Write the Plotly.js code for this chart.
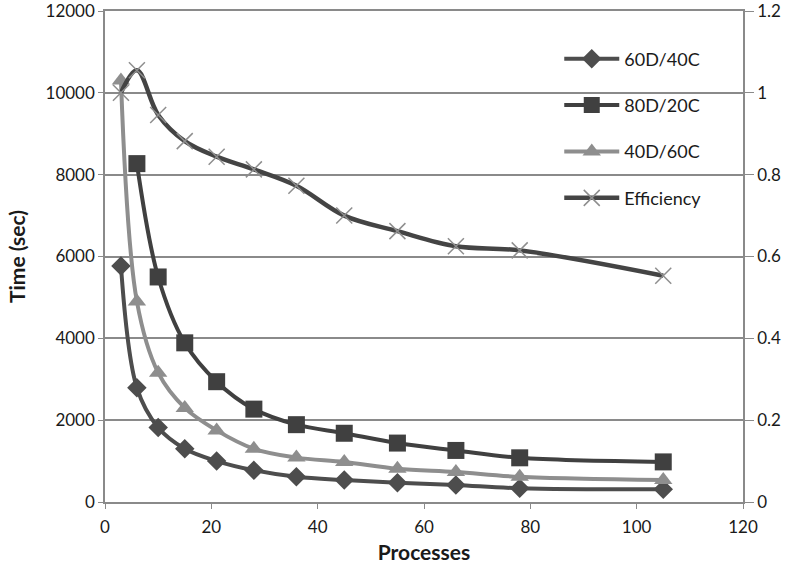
<!DOCTYPE html>
<html>
<head>
<meta charset="utf-8">
<script src="https://cdn.plot.ly/plotly-3.0.1.min.js"></script>
<style>html,body{margin:0;padding:0;background:#fff;}#chart{width:800px;height:565px;}</style>
</head>
<body>
<div id="chart"></div>
<script>
var processes = [3, 6, 10, 15, 21, 28, 36, 45, 55, 66, 78, 105];
var processes80 = [6, 10, 15, 21, 28, 36, 45, 55, 66, 78, 105];
var time60D40C = [5770, 2790, 1820, 1300, 1000, 775, 615, 535, 470, 415, 335, 310];
var time80D20C = [8270, 5500, 3890, 2940, 2270, 1890, 1680, 1440, 1260, 1080, 980];
var time40D60C = [10300, 4900, 3160, 2300, 1750, 1300, 1085, 980, 815, 735, 615, 535];
var efficiency = [1.0, 1.055, 0.946, 0.882, 0.844, 0.813, 0.773, 0.700, 0.662, 0.625, 0.615, 0.553];
var seriesNames = ["60D/40C", "80D/20C", "40D/60C", "Efficiency"];

var light = "#8e8e8e";
var font = "Lato, 'Open Sans', sans-serif";

var traces = [
  {x: processes, y: time60D40C, name: seriesNames[0], legendgroup: "a", type: "scatter", mode: "lines+markers",
   line: {color: "#4d4d4d", width: 4, shape: "spline", smoothing: 1},
   marker: {symbol: "diamond", size: 15, color: "#4d4d4d"}},
  {x: processes80, y: time80D20C, name: seriesNames[1], legendgroup: "b", type: "scatter", mode: "lines+markers",
   line: {color: "#404040", width: 4, shape: "spline", smoothing: 1},
   marker: {symbol: "square", size: 17, color: "#404040"}},
  {x: processes, y: time40D60C, name: seriesNames[2], legendgroup: "c", type: "scatter", mode: "lines+markers",
   line: {color: light, width: 4, shape: "spline", smoothing: 1},
   marker: {symbol: "triangle-up", size: 16, color: light}},
  {x: processes, y: efficiency, name: seriesNames[3], legendgroup: "d", yaxis: "y2", type: "scatter", mode: "lines+markers",
   line: {color: "#444444", width: 4.5, shape: "spline", smoothing: 1},
   marker: {symbol: "x-thin-open", size: 16, color: light, line: {color: light, width: 1.5}}}
];

var layout = {
  width: 800, height: 565,
  margin: {l: 105, r: 57, t: 11, b: 63},
  paper_bgcolor: "#fff", plot_bgcolor: "#fff",
  font: {family: font, size: 17, color: "#1a1a1a"},
  showlegend: true,
  legend: {x: 0.712, y: 0.94, xanchor: "left", yanchor: "top", bgcolor: "rgba(0,0,0,0)",
           tracegroupgap: 20, itemwidth: 55, font: {size: 18, family: font, color: "#1a1a1a"}},
  xaxis: {range: [0, 120], dtick: 20, tick0: 0, showgrid: false, zeroline: false, mirror: true,
          showline: true, linecolor: "#8a8a8a", linewidth: 1.5, ticks: "outside", ticklen: 5, tickcolor: "#8a8a8a",
          tickfont: {size: 17, family: font}, ticklabelstandoff: 4, ticklabeloverflow: "allow",
          title: {text: "<b>Processes</b>", font: {size: 21, family: font}, standoff: 9}},
  yaxis: {range: [0, 12000], dtick: 2000, tick0: 0, tickformat: "d", showgrid: true, gridcolor: "#8a8a8a", gridwidth: 1.5,
          zeroline: false, showline: true, linecolor: "#8a8a8a", linewidth: 1.5, ticks: "outside", ticklen: 5, tickcolor: "#8a8a8a",
          tickfont: {size: 17, family: font}, ticklabeloverflow: "allow",
          title: {text: "<b>Time (sec)</b>", font: {size: 21, family: font}, standoff: 14}},
  yaxis2: {range: [0, 1.2], dtick: 0.2, tick0: 0, overlaying: "y", side: "right", showgrid: false, zeroline: false,
           showline: true, linecolor: "#8a8a8a", linewidth: 1.5, ticks: "outside", ticklen: 9, tickcolor: "#8a8a8a",
           tickfont: {size: 17, family: font}, ticklabeloverflow: "allow"}
};

Plotly.newPlot("chart", traces, layout, {displayModeBar: false, responsive: false});
</script>
</body>
</html>
